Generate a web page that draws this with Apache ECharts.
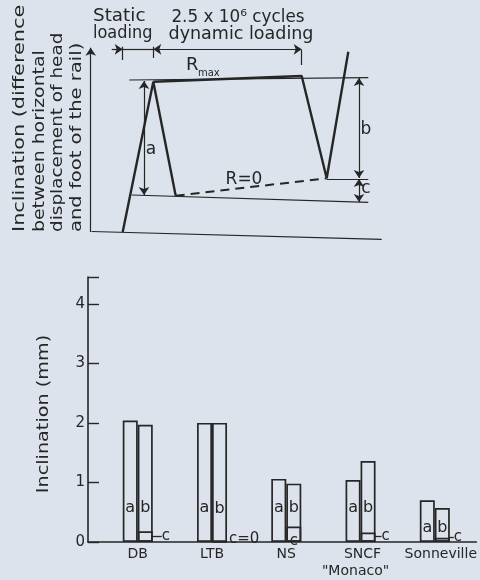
<!DOCTYPE html>
<html>
<head>
<meta charset="utf-8">
<script src="https://cdn.jsdelivr.net/npm/echarts@6/dist/echarts.min.js"></script>
<style>
html,body{margin:0;padding:0;background:#dce3ec;}
#chart{width:480px;height:580px;}
</style>
</head>
<body>
<div id="chart"></div>
<script>
// ---------- bar chart data ----------
const categories = ['DB', 'LTB', 'NS', 'SNCF\n"Monaco"', 'Sonneville'];
const catPos = [1, 2, 3, 4, 5];
const aValues = [2.04, 2.0, 1.06, 1.04, 0.70];   // a: static inclination
const cValues = [0.18, 0, 0.26, 0.16, 0.07];     // c: residual after dynamic loading
const bValues = [1.97, 2.0, 0.98, 1.36, 0.57];   // b: elastic part after dynamic loading (stacked on c)
const yTicks = [0, 1, 2, 3, 4];

// ---------- schematic (top) data, arbitrary units ----------
const staticPath = [[32.7, 0], [63.3, 150.3], [85.7, 36.3]];
const dynamicPath = [[63.3, 150.3], [211.7, 156], [236.7, 53.7], [258.3, 180.3]];
const residualPath = [[85.7, 36.3], [236.7, 53.7]];
const rmaxLine = [[39.3, 152], [278.3, 154.3]];
const initialLine = [[41.7, 37], [278.3, 29.7]];
const finalLine = [[236.7, 52.7], [278.3, 52.7]];
const baseLine = [[1.7, 0.5], [291.7, -7.3]];
const axisArrow = [[0.7, 0], [0.7, 184.3]];
const dimA = [[54, 151], [54, 37]];
const dimB = [[269, 154], [269, 54]];
const dimC = [[269, 53], [269, 30]];
const staticArrow = [[21.7, 182.7], [32.7, 182.7]];
const staticSpan = [[32.7, 182.7], [63.3, 182.7]];
const dynamicSpan = [[63.3, 182.7], [211.7, 182.7]];
const tickStart = [[32.7, 185.3], [32.7, 172]];
const tickMid = [[63.3, 185.3], [63.3, 174]];
const tickEnd = [[211.7, 182], [211.7, 167]];

const INK = '#262626';
const FONT = 'DejaVu Sans';

function seg(p, s0, s1) {
  return [{coord: p[0], symbol: s0}, {coord: p[1], symbol: s1}];
}
function txt(text, x, y, size, align, opts) {
  return Object.assign({
    type: 'text', x: x, y: y, silent: true,
    style: {
      text: text, fontSize: size, fontFamily: FONT, fill: INK,
      align: align, verticalAlign: 'middle', textAlign: align, textVerticalAlign: 'middle'
    }
  }, opts || {});
}

const chart = echarts.init(document.getElementById('chart'), null, {renderer: 'canvas'});

// label configs (styles only)
const abDistance = [26, 26, 26, 26, 6];
const cLabelCfg = [
  {formatter: 'c', position: ['100%', '100%'], offset: [9, -13], line: true},
  {formatter: 'c=0', position: ['100%', '100%'], offset: [2, -10], line: false},
  {formatter: 'c', position: ['50%', '100%'], offset: [0, -8], align: 'center', line: false},
  {formatter: 'c', position: ['100%', '100%'], offset: [6, -13], line: true},
  {formatter: 'c', position: ['100%', '100%'], offset: [4, -12], line: true}
];

const labelFont = {fontFamily: FONT, fontSize: 16, color: INK};

const option = {
  backgroundColor: '#dce3ec',
  animation: false,
  grid: [
    {left: 88, right: 3, top: 277, height: 269, containLabel: false},
    {left: 90, top: 32, width: 300, height: 210, containLabel: false}
  ],
  xAxis: [
    {
      type: 'value', gridIndex: 0, min: 0.33, max: 5.56, interval: 0.01,
      axisLine: {show: true, onZero: true, lineStyle: {color: INK, width: 1.6}},
      axisTick: {show: false},
      splitLine: {show: false},
      axisLabel: {
        margin: 4,
        fontFamily: FONT, fontSize: 14, color: INK, lineHeight: 17,
        formatter: function (v) {
          const r = Math.round(v);
          if (Math.abs(v - r) > 1e-6) return '';
          const i = catPos.indexOf(r);
          if (i < 0) return '';
          const name = categories[i];
          if (i === 4) return '{s|' + name + '}';
          if (name.indexOf('\n') >= 0) {
            const parts = name.split('\n');
            return '{n|' + parts[0] + '}\n{m|' + parts[1] + '}';
          }
          return name;
        },
        rich: {
          s: {fontFamily: FONT, fontSize: 14, color: INK, padding: [0, 0, 0, 12]},
          n: {fontFamily: FONT, fontSize: 14, color: INK, lineHeight: 17, padding: [0, 0, 0, 4]},
          m: {fontFamily: FONT, fontSize: 14, color: INK, lineHeight: 17, padding: [0, 10, 0, 0]}
        }
      }
    },
    {type: 'value', gridIndex: 1, min: 0, max: 300, show: false}
  ],
  yAxis: [
    {
      type: 'value', gridIndex: 0, min: 0, max: 4.45, interval: 1,
      axisLine: {show: true, lineStyle: {color: INK, width: 1.6}},
      axisTick: {show: true, inside: true, length: 11, lineStyle: {color: INK, width: 1.4}},
      splitLine: {show: false},
      axisLabel: {
        margin: 3, fontFamily: FONT, fontSize: 15, color: INK,
        formatter: function (v) { return yTicks.indexOf(v) >= 0 ? String(v) : ''; }
      }
    },
    {type: 'value', gridIndex: 1, min: -10, max: 200, show: false}
  ],
  series: [
    {
      name: 'a', type: 'bar', xAxisIndex: 0, yAxisIndex: 0,
      barWidth: 15, barGap: '0%',
      data: catPos.map((x, i) => ({
        value: [x, aValues[i]],
        label: {distance: abDistance[i]}
      })),
      itemStyle: {color: 'rgba(0,0,0,0)', borderColor: INK, borderWidth: 1.7},
      label: Object.assign({show: true, position: 'insideBottom', formatter: 'a'}, labelFont),
      silent: true
    },
    {
      name: 'c', type: 'bar', stack: 'bc', xAxisIndex: 0, yAxisIndex: 0,
      barWidth: 15, barGap: '0%',
      data: catPos.map((x, i) => ({
        value: [x, cValues[i]],
        label: {distance: abDistance[i]}
      })),
      itemStyle: {color: 'rgba(0,0,0,0)', borderColor: INK, borderWidth: 1.7},
      label: Object.assign({show: true, position: 'insideBottom', formatter: 'b'}, labelFont),
      silent: true
    },
    {
      name: 'b', type: 'bar', stack: 'bc', xAxisIndex: 0, yAxisIndex: 0,
      barWidth: 15, barGap: '0%',
      data: catPos.map((x, i) => {
        const c = cLabelCfg[i];
        const lab = {show: true, formatter: c.formatter, position: c.position, offset: c.offset};
        if (c.align) lab.align = c.align;
        return {
          value: [x, bValues[i]],
          label: lab,
          labelLine: {show: c.line, lineStyle: {color: INK, width: 1.3}}
        };
      }),
      itemStyle: {color: 'rgba(0,0,0,0)', borderColor: INK, borderWidth: 1.7},
      label: Object.assign({show: true}, labelFont, {fontSize: 15}),
      silent: true
    },
    // ---------- schematic ----------
    {
      type: 'line', xAxisIndex: 1, yAxisIndex: 1, data: staticPath,
      showSymbol: false, symbol: 'none', silent: true,
      lineStyle: {color: INK, width: 2.4},
      markLine: {
        silent: true, animation: false,
        symbolSize: 8,
        label: {show: false},
        lineStyle: {color: INK, width: 1.2, type: 'solid'},
        emphasis: {disabled: true},
        data: [
          seg(rmaxLine, 'none', 'none'),
          seg(initialLine, 'none', 'none'),
          seg(finalLine, 'none', 'none'),
          seg(baseLine, 'none', 'none'),
          seg(axisArrow, 'none', 'arrow'),
          seg(dimA, 'arrow', 'arrow'),
          seg(dimB, 'arrow', 'arrow'),
          seg(dimC, 'arrow', 'arrow'),
          seg(staticArrow, 'none', 'arrow'),
          seg(staticSpan, 'none', 'none'),
          seg(dynamicSpan, 'arrow', 'arrow'),
          seg(tickStart, 'none', 'none'),
          seg(tickMid, 'none', 'none'),
          seg(tickEnd, 'none', 'none')
        ]
      }
    },
    {
      type: 'line', xAxisIndex: 1, yAxisIndex: 1, data: dynamicPath,
      showSymbol: false, symbol: 'none', silent: true,
      lineStyle: {color: INK, width: 2.4}
    },
    {
      type: 'line', xAxisIndex: 1, yAxisIndex: 1, data: residualPath,
      showSymbol: false, symbol: 'none', silent: true,
      lineStyle: {color: INK, width: 2, type: [9, 6]}
    }
  ],
  graphic: [
    // top y-axis title (rotated)
    txt('Inclination (difference', 19.5, 232, 16, 'left', {rotation: Math.PI / 2, scaleX: 1.3}),
    txt('between horizontal', 39.5, 232, 16, 'left', {rotation: Math.PI / 2, scaleX: 1.18}),
    txt('displacement of head', 58, 232, 16, 'left', {rotation: Math.PI / 2, scaleX: 1.15}),
    txt('and foot of the rail)', 77, 232, 16, 'left', {rotation: Math.PI / 2, scaleX: 1.22}),
    // bottom y-axis title
    txt('Inclination (mm)', 43.5, 414, 16, 'center', {rotation: Math.PI / 2, scaleX: 1.2}),
    // top annotations
    txt('Static', 93, 17, 17, 'left', {scaleX: 1.08}),
    txt('loading', 93, 34, 17, 'left', {scaleX: 0.95}),
    txt('2.5 x 10\u2076 cycles', 238, 18, 17, 'center', {scaleX: 0.99}),
    txt('dynamic loading', 241, 35, 17, 'center', {scaleX: 1.03}),
    txt('R', 186, 65, 18, 'left'),
    txt('max', 198, 73, 10, 'left'),
    txt('R=0', 244, 180, 17, 'center'),
    txt('a', 151, 150, 17, 'center'),
    txt('b', 366, 130, 17, 'center'),
    txt('c', 366, 189, 17, 'center')
  ]
};

chart.setOption(option);
</script>
</body>
</html>
